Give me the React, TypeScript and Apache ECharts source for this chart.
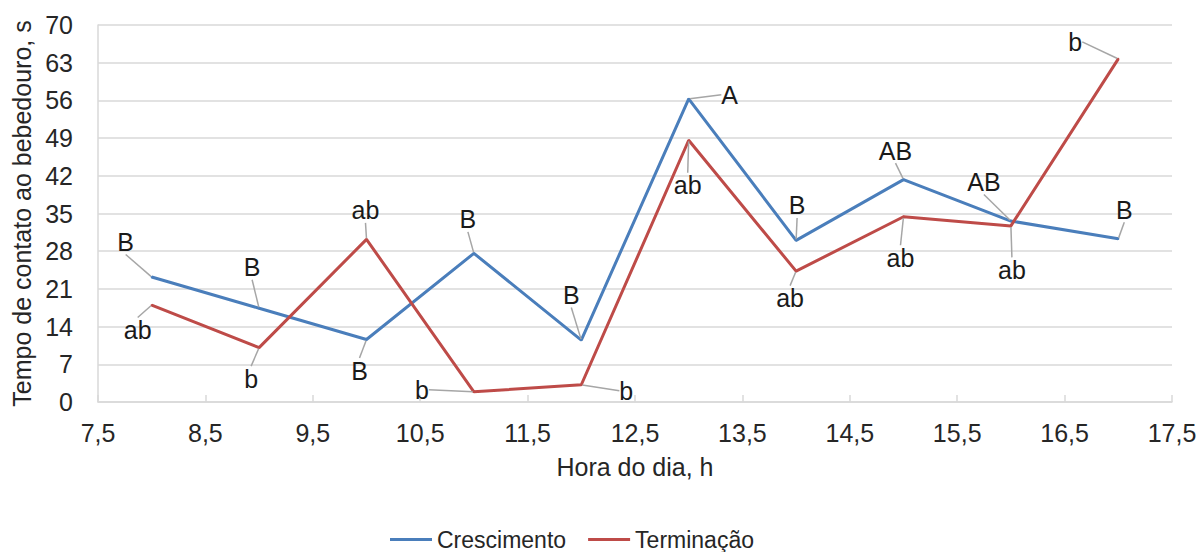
import React, { useEffect, useRef } from "react";
import * as echarts from "echarts";

const hours = [8, 9, 10, 11, 12, 13, 14, 15, 16, 17];
const crescimento = [23.2, 17.4, 11.6, 27.6, 11.5, 56.3, 30.0, 41.3, 33.6, 30.3];
const terminacao = [18.0, 10.1, 30.2, 1.9, 3.2, 48.6, 24.3, 34.4, 32.7, 63.7];
const crescLetters = ["B", "B", "B", "B", "B", "A", "B", "AB", "AB", "B"];
const termLetters = ["ab", "b", "ab", "b", "b", "ab", "ab", "ab", "ab", "b"];

// label offsets (layout only)
const crescOffsets: [number, number][] = [
  [-26, -35], [-7, -41], [-7, 31], [-6, -34], [-10, -45],
  [41, -4], [1, -35], [-8, -29], [-27, -39], [6, -29],
];
const termOffsets: [number, number][] = [
  [-14, 25], [-8, 31], [-1, -29], [-52, -2], [45, 6],
  [-1, 45], [-6, 27], [-3, 41], [1, 44], [-43, -17],
];

const FONT = "'Liberation Sans', Arial, sans-serif";
const FS = 25;

export default function App() {
  const ref = useRef<HTMLDivElement>(null);
  useEffect(() => {
    if (!ref.current) return;
    const chart = echarts.init(ref.current, undefined, { renderer: "svg" });
    const mkSeries = (
      name: string,
      vals: number[],
      letters: string[],
      offs: [number, number][],
      color: string
    ) => ({
      name,
      type: "line",
      data: hours.map((h, i) => [h, vals[i]]),
      symbol: "circle",
      symbolSize: 2,
      showSymbol: true,
      itemStyle: { color },
      lineStyle: { color, width: 3 },
      label: {
        show: true,
        position: "inside",
        formatter: (p: any) => letters[p.dataIndex],
        fontFamily: FONT,
        fontSize: FS,
        color: "#1a1a1a",
      },
      labelLine: {
        show: true,
        lineStyle: { color: "#a6a6a6", width: 1.5 },
      },
      labelLayout: (p: any) => ({
        dx: offs[p.dataIndex][0],
        dy: offs[p.dataIndex][1],
        hideOverlap: false,
      }),
      emphasis: { disabled: true },
    });
    chart.setOption({
      animation: false,
      grid: { left: 98, right: 31, top: 25, bottom: 150 },
      xAxis: {
        type: "value",
        min: 7.5,
        max: 17.5,
        interval: 1,
        name: "Hora do dia, h",
        nameLocation: "middle",
        nameGap: 52,
        nameTextStyle: { fontFamily: FONT, fontSize: FS, color: "#262626" },
        axisLine: { show: true, lineStyle: { color: "#d9d9d9", width: 1.5 } },
        axisTick: { show: true, inside: true, length: 7, lineStyle: { color: "#d9d9d9", width: 1.5 } },
        axisLabel: {
          fontFamily: FONT,
          fontSize: FS,
          color: "#262626",
          margin: 18,
          formatter: (v: number) => String(v).replace(".", ","),
        },
        splitLine: { show: false },
      },
      yAxis: {
        type: "value",
        min: 0,
        max: 70,
        interval: 7,
        name: "Tempo de contato ao bebedouro, s",
        nameLocation: "middle",
        nameGap: 64,
        nameTextStyle: { fontFamily: FONT, fontSize: FS, color: "#262626" },
        axisLine: { show: true, lineStyle: { color: "#d9d9d9", width: 1.5 } },
        axisTick: { show: false },
        axisLabel: { fontFamily: FONT, fontSize: FS, color: "#262626", margin: 25 },
        splitLine: { show: true, lineStyle: { color: "#d9d9d9", width: 1.5 } },
      },
      legend: {
        left: 385,
        top: 523,
        itemWidth: 42,
        itemHeight: 3,
        itemGap: 22,
        icon: "rect",
        textStyle: { fontFamily: FONT, fontSize: 23, color: "#262626" },
        data: ["Crescimento", "Terminação"],
      },
      series: [
        mkSeries("Crescimento", crescimento, crescLetters, crescOffsets, "#4a7ebb"),
        mkSeries("Terminação", terminacao, termLetters, termOffsets, "#be4b48"),
      ],
    });
    return () => chart.dispose();
  }, []);
  return <div ref={ref} style={{ width: 1203, height: 552, position: "absolute", left: 0, top: 0 }} />;
}
